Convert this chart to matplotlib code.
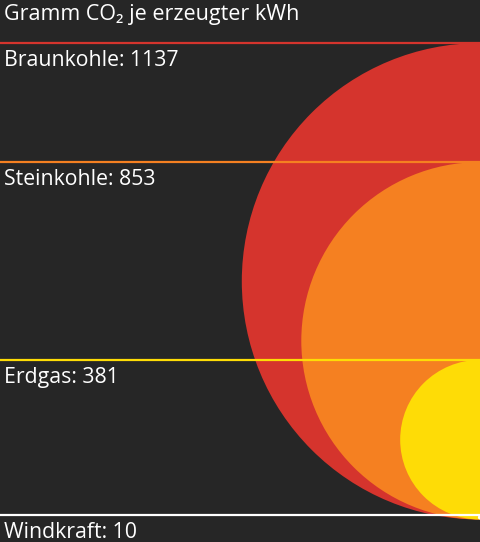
import matplotlib
matplotlib.use("Agg")
import matplotlib.pyplot as plt
from matplotlib.patches import Circle

plt.rcParams['font.family'] = ['Open Sans', 'DejaVu Sans']

# Data
sources = ["Braunkohle", "Steinkohle", "Erdgas", "Windkraft"]
values = [1137, 853, 381, 10]
colors = ["#d5342d", "#f58021", "#fedc06", "#ffffff"]
title = "Gramm CO\u2082 je erzeugter kWh"

BG = "#262626"
W, H = 480, 542
SCALE = 0.2095    # pixels of radius per gram
BASE = 519.5      # common bottom of all circles

fig = plt.figure(figsize=(W / 100, H / 100), dpi=100, facecolor=BG)
ax = fig.add_axes([0, 0, 1, 1])
ax.set_facecolor(BG)
ax.set_xlim(0, W)
ax.set_ylim(H, 0)
ax.axis("off")

order = sorted(range(len(values)), key=lambda i: -values[i])
for i in order:
    r = values[i] * SCALE
    ax.add_patch(Circle((W, BASE - r), r, facecolor=colors[i], edgecolor="none",
                        zorder=1 + order.index(i)))

for i, (name, v) in enumerate(zip(sources, values)):
    top = BASE - 2 * v * SCALE
    ax.plot([0, W], [top, top], color=colors[i], lw=1.6, solid_capstyle="butt", zorder=10)
    ax.text(4, top + 23, f"{name}: {v}", color="white", fontsize=15.3,
            ha="left", va="baseline", zorder=11)

ax.text(4, 20, title, color="white", fontsize=15.5, ha="left", va="baseline", zorder=11)

fig.savefig("out.png", dpi=100, facecolor=BG)
